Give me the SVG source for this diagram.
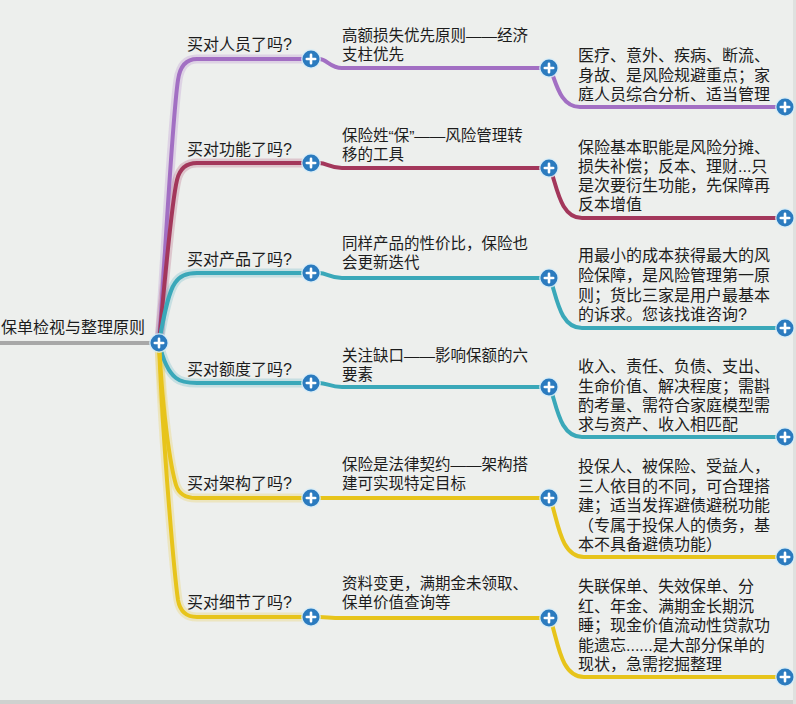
<svg xmlns="http://www.w3.org/2000/svg" xmlns:xlink="http://www.w3.org/1999/xlink" width="796" height="704" viewBox="0 0 796 704">
<style>
text{font-family:"Liberation Sans","Noto Sans CJK SC",sans-serif;fill:#1c1c1c}
.t1{font-size:16px}
.t2{font-size:15.5px}
.t3{font-size:16px}
.c{fill:none;stroke-linecap:round;stroke-linejoin:round}
.w{stroke-width:4}
.h{stroke-width:9;opacity:0.22}
.pu{stroke:#a26fc3}
.ma{stroke:#a3375b}
.te{stroke:#3aa8b9}
.ye{stroke:#e7c41b}
.gr{stroke:#a8a8a8}
</style>
<defs>
<g id="plus">
<circle r="10" fill="#d6ecf7" opacity="0.8"/>
<circle r="8.5" fill="#2b7bbf"/>
<path d="M-4.2,0H4.2M0,-4.2V4.2" stroke="#ffffff" stroke-width="2.6" stroke-linecap="round"/>
</g>
</defs>
<rect width="796" height="704" fill="#edefed"/>
<rect x="0" y="700" width="796" height="4" fill="#cfd1cf"/>
<rect x="793" y="0" width="3" height="704" fill="#dfe1df"/>

<g id="connectors">
<!-- halos -->
<path class="c h pu" d="M159,343 C165,260 172,120 178,80 Q181,59 197,59 H302"/>
<path class="c h ma" d="M159,343 C163,300 171,205 177,180 Q181,163 197,163 H302"/>
<path class="c h te" d="M159,343 C163,320 168,292 175,283 Q181,273 197,273 H302"/>
<path class="c h te" d="M159,343 C163,360 168,372 176,378 Q182,383 197,383 H302"/>
<path class="c h ye" d="M159,343 C163,420 171,468 176,485 Q180,498 196,498 H302"/>
<path class="c h ye" d="M159,343 C163,450 175,580 178,600 Q181,617 197,617 H302"/>
<path class="c w gr" d="M0,343 H150"/>
<!-- level 1 -->
<path class="c w pu" d="M159,343 C165,260 172,120 178,80 Q181,59 197,59 H302"/>
<path class="c w ma" d="M159,343 C163,300 171,205 177,180 Q181,163 197,163 H302"/>
<path class="c w te" d="M159,343 C163,320 168,292 175,283 Q181,273 197,273 H302"/>
<path class="c w te" d="M159,343 C163,360 168,372 176,378 Q182,383 197,383 H302"/>
<path class="c w ye" d="M159,343 C163,420 171,468 176,485 Q180,498 196,498 H302"/>
<path class="c w ye" d="M159,343 C163,450 175,580 178,600 Q181,617 197,617 H302"/>
<!-- level 2 -->
<path class="c w pu" d="M319,59 C327,59 330,68 342,68 H541"/>
<path class="c w ma" d="M319,163 C327,163 330,168 342,168 H541"/>
<path class="c w te" d="M319,273 C327,273 330,278 342,278 H541"/>
<path class="c w te" d="M319,383 C327,383 330,387 342,387 H541"/>
<path class="c w ye" d="M319,498 H541"/>
<path class="c w ye" d="M319,617 C327,617 330,618 342,618 H541"/>
<!-- level 3 -->
<path class="c w pu" d="M550,68 C556,82 560,107 580,107 H777"/>
<path class="c w ma" d="M550,168 C557,186 560,218 582,218 H777"/>
<path class="c w te" d="M550,278 C557,298 560,328 582,328 H777"/>
<path class="c w te" d="M550,387 C557,407 560,437 582,437 H777"/>
<path class="c w ye" d="M550,498 C558,520 560,557 584,557 H777"/>
<path class="c w ye" d="M550,618 C558,640 560,677 584,677 H777"/>
</g>

<g id="root">
<text class="t1" x="1" y="333">保单检视与整理原则</text>
<use xlink:href="#plus" x="159" y="343"/>
</g>

<g id="n1">
<text class="t1" x="187" y="50">买对人员了吗?</text>
<use xlink:href="#plus" x="311" y="59"/>
</g>
<g id="n1a">
<text class="t2" x="342"><tspan x="342" y="41">高额损失优先原则——经济</tspan><tspan x="342" y="60">支柱优先</tspan></text>
<use xlink:href="#plus" x="549" y="68"/>
</g>
<g id="n1b">
<text class="t3"><tspan x="578" y="61">医疗、意外、疾病、断流、</tspan><tspan x="578" y="80.5">身故、是风险规避重点；家</tspan><tspan x="578" y="100">庭人员综合分析、适当管理</tspan></text>
<use xlink:href="#plus" x="785" y="107"/>
</g>

<g id="n2">
<text class="t1" x="187" y="155">买对功能了吗?</text>
<use xlink:href="#plus" x="311" y="163"/>
</g>
<g id="n2a">
<text class="t2"><tspan x="342" y="141">保险姓“保”——风险管理转</tspan><tspan x="342" y="160">移的工具</tspan></text>
<use xlink:href="#plus" x="549" y="168"/>
</g>
<g id="n2b">
<text class="t3"><tspan x="578" y="153">保险基本职能是风险分摊、</tspan><tspan x="578" y="172">损失补偿；反本、理财...只</tspan><tspan x="578" y="191">是次要衍生功能，先保障再</tspan><tspan x="578" y="210">反本增值</tspan></text>
<use xlink:href="#plus" x="785" y="218"/>
</g>

<g id="n3">
<text class="t1" x="187" y="265">买对产品了吗?</text>
<use xlink:href="#plus" x="311" y="273"/>
</g>
<g id="n3a">
<text class="t2"><tspan x="342" y="249">同样产品的性价比，保险也</tspan><tspan x="342" y="268">会更新迭代</tspan></text>
<use xlink:href="#plus" x="549" y="278"/>
</g>
<g id="n3b">
<text class="t3"><tspan x="578" y="261">用最小的成本获得最大的风</tspan><tspan x="578" y="281">险保障，是风险管理第一原</tspan><tspan x="578" y="301">则；货比三家是用户最基本</tspan><tspan x="578" y="320">的诉求。您该找谁咨询?</tspan></text>
<use xlink:href="#plus" x="785" y="328"/>
</g>

<g id="n4">
<text class="t1" x="187" y="375">买对额度了吗?</text>
<use xlink:href="#plus" x="311" y="383"/>
</g>
<g id="n4a">
<text class="t2"><tspan x="342" y="361">关注缺口——影响保额的六</tspan><tspan x="342" y="380">要素</tspan></text>
<use xlink:href="#plus" x="549" y="387"/>
</g>
<g id="n4b">
<text class="t3"><tspan x="578" y="372">收入、责任、负债、支出、</tspan><tspan x="578" y="392">生命价值、解决程度；需斟</tspan><tspan x="578" y="411">酌考量、需符合家庭模型需</tspan><tspan x="578" y="430">求与资产、收入相匹配</tspan></text>
<use xlink:href="#plus" x="785" y="437"/>
</g>

<g id="n5">
<text class="t1" x="187" y="489">买对架构了吗?</text>
<use xlink:href="#plus" x="311" y="498"/>
</g>
<g id="n5a">
<text class="t2"><tspan x="342" y="470">保险是法律契约——架构搭</tspan><tspan x="342" y="489">建可实现特定目标</tspan></text>
<use xlink:href="#plus" x="549" y="498"/>
</g>
<g id="n5b">
<text class="t3"><tspan x="578" y="472">投保人、被保险、受益人，</tspan><tspan x="578" y="491.5">三人依目的不同，可合理搭</tspan><tspan x="578" y="511">建；适当发挥避债避税功能</tspan><tspan x="578" y="530.5">（专属于投保人的债务，基</tspan><tspan x="578" y="550">本不具备避债功能）</tspan></text>
<use xlink:href="#plus" x="785" y="557"/>
</g>

<g id="n6">
<text class="t1" x="187" y="608">买对细节了吗?</text>
<use xlink:href="#plus" x="311" y="617"/>
</g>
<g id="n6a">
<text class="t2"><tspan x="342" y="589">资料变更，满期金未领取、</tspan><tspan x="342" y="608">保单价值查询等</tspan></text>
<use xlink:href="#plus" x="549" y="618"/>
</g>
<g id="n6b">
<text class="t3"><tspan x="578" y="592">失联保单、失效保单、分</tspan><tspan x="578" y="611.5">红、年金、满期金长期沉</tspan><tspan x="578" y="631">睡；现金价值流动性贷款功</tspan><tspan x="578" y="650.5">能遗忘......是大部分保单的</tspan><tspan x="578" y="670">现状，急需挖掘整理</tspan></text>
<use xlink:href="#plus" x="785" y="677"/>
</g>
</svg>
